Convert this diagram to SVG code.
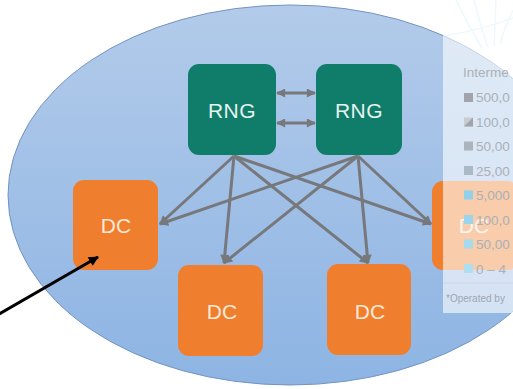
<svg xmlns="http://www.w3.org/2000/svg" width="513" height="389" viewBox="0 0 513 389">
  <style>
    .rng rect { fill: #107d6b; }
    .dc rect { fill: #ef7f2e; }
    .lbl { font-family: "Liberation Sans", Arial, sans-serif; font-size: 21px; text-anchor: middle; }
    .rng text { fill: #e6f3ee; }
    .dc text { fill: #fde9d6; }
    .conn { stroke: #77787c; stroke-width: 3; fill: none; }
    .blk { stroke: #000000; stroke-width: 3; fill: none; }
    .leg { font-family: "Liberation Sans", Arial, sans-serif; font-size: 13.5px; fill: #aab0b8; }
    .note { font-family: "Liberation Sans", Arial, sans-serif; font-size: 10px; fill: #9ea5ae; }
    .map { stroke: #d6eef5; stroke-width: 1.5; fill: none; }
  </style>
  <defs>
    <linearGradient id="bg" x1="0" y1="0" x2="0" y2="1">
      <stop offset="0" stop-color="#b3cbea"/>
      <stop offset="1" stop-color="#8db4e3"/>
    </linearGradient>
    <marker id="ag" viewBox="0 0 10 10" refX="9" refY="5" markerWidth="11" markerHeight="9" markerUnits="userSpaceOnUse" orient="auto-start-reverse">
      <path d="M0,0 L10,5 L0,10 z" fill="#77787c"/>
    </marker>
    <marker id="ab" viewBox="0 0 10 10" refX="9" refY="5" markerWidth="12" markerHeight="10" markerUnits="userSpaceOnUse" orient="auto">
      <path d="M0,0 L10,5 L0,10 z" fill="#000000"/>
    </marker>
  </defs>

  <rect width="513" height="389" fill="#ffffff"/>

  <!-- faint background map lines -->
  <g id="map">
    <path class="map" d="M456,0 Q468,25 482,48"/>
    <path class="map" d="M474,0 Q480,24 488,48"/>
    <path class="map" d="M496,0 Q495,22 494,46"/>
    <path class="map" d="M513,10 Q505,26 500,44"/>
    <path class="map" d="M445,36 Q480,30 513,18"/>
  </g>

  <!-- cluster ellipse -->
  <g id="cluster">
    <ellipse cx="290" cy="195" rx="282" ry="190" fill="url(#bg)" stroke="#7393c2" stroke-width="1"/>
  </g>

  <!-- connectors -->
  <g id="connectors">
    <line class="conn" x1="277" y1="93" x2="315" y2="93" marker-start="url(#ag)" marker-end="url(#ag)"/>
    <line class="conn" x1="277" y1="123" x2="315" y2="123" marker-start="url(#ag)" marker-end="url(#ag)"/>
    <line class="conn" x1="234" y1="156" x2="160" y2="224" marker-end="url(#ag)"/>
    <line class="conn" x1="234" y1="156" x2="224" y2="263" marker-end="url(#ag)"/>
    <line class="conn" x1="234" y1="156" x2="368" y2="263" marker-end="url(#ag)"/>
    <line class="conn" x1="234" y1="156" x2="431" y2="224" marker-end="url(#ag)"/>
    <line class="conn" x1="358" y1="156" x2="160" y2="224" marker-end="url(#ag)"/>
    <line class="conn" x1="358" y1="156" x2="224" y2="263" marker-end="url(#ag)"/>
    <line class="conn" x1="358" y1="156" x2="368" y2="263" marker-end="url(#ag)"/>
    <line class="conn" x1="358" y1="156" x2="431" y2="224" marker-end="url(#ag)"/>
  </g>

  <!-- nodes -->
  <g id="rng1" class="rng">
    <rect x="188" y="64" width="88" height="91" rx="11"/>
    <text class="lbl" x="232" y="117.5" letter-spacing="0.5">RNG</text>
  </g>
  <g id="rng2" class="rng">
    <rect x="316" y="64" width="86" height="91" rx="11"/>
    <text class="lbl" x="359" y="117.5" letter-spacing="0.5">RNG</text>
  </g>
  <g id="dc-left" class="dc">
    <rect x="73" y="180" width="85" height="90" rx="11"/>
    <text class="lbl" x="116" y="233">DC</text>
  </g>
  <g id="dc-bottom1" class="dc">
    <rect x="178" y="265" width="85" height="91" rx="11"/>
    <text class="lbl" x="222" y="319">DC</text>
  </g>
  <g id="dc-bottom2" class="dc">
    <rect x="327" y="264" width="84" height="91" rx="11"/>
    <text class="lbl" x="370" y="319">DC</text>
  </g>
  <g id="dc-right" class="dc">
    <rect x="432" y="181" width="86" height="89" rx="11"/>
    <text class="lbl" x="474" y="233">DC</text>
  </g>

  <!-- pointer arrow from outside, drawn over the left DC -->
  <g id="pointer">
    <line class="blk" x1="-6" y1="317" x2="98" y2="257" marker-end="url(#ab)"/>
  </g>

  <!-- partial legend panel overlay -->
  <g id="legend">
    <rect x="443" y="0" width="70" height="313" fill="#ffffff" fill-opacity="0.6"/>
    <line x1="443" y1="283" x2="513" y2="283" stroke="#d2d8e0" stroke-width="1"/>
    <text class="leg" x="463" y="77">Interme</text>
    <rect x="464" y="93" width="9" height="9" fill="#a1a5ab"/>
    <text class="leg" x="476" y="102">500,0</text>
    <path d="M464,117.5 h9 v9 h-9 z" fill="#c9ccd1"/>
    <path d="M464,126.5 L473,117.5 L473,126.5 z" fill="#a1a5ab"/>
    <text class="leg" x="476" y="126.5">100,0</text>
    <rect x="464" y="141.5" width="9" height="9" fill="#abb3bc"/>
    <text class="leg" x="476" y="151">50,00</text>
    <rect x="464" y="166" width="9" height="9" fill="#a9bac6"/>
    <text class="leg" x="476" y="175.5">25,00</text>
    <rect x="464" y="190.5" width="9" height="9" fill="#8fd0ea"/>
    <text class="leg" x="476" y="200">5,000</text>
    <rect x="464" y="215" width="9" height="9" fill="#9bd5ec"/>
    <text class="leg" x="476" y="224.5">100,0</text>
    <rect x="464" y="239.5" width="9" height="9" fill="#a6daee"/>
    <text class="leg" x="476" y="249">50,00</text>
    <rect x="464" y="264" width="9" height="9" fill="#aedef0"/>
    <text class="leg" x="476" y="273.5">0 – 4</text>
    <text class="note" x="446" y="302">*Operated by</text>
  </g>
</svg>
